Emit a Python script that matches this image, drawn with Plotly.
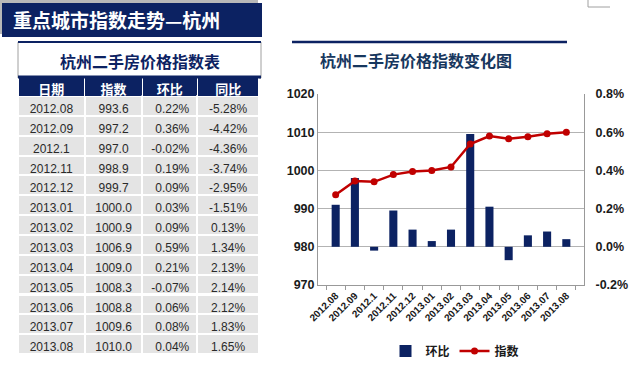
import plotly.graph_objects as go

# ---- data ----
dates = ["2012.08", "2012.09", "2012.1", "2012.11", "2012.12", "2013.01", "2013.02",
         "2013.03", "2013.04", "2013.05", "2013.06", "2013.07", "2013.08"]
index_vals = [993.6, 997.2, 997.0, 998.9, 999.7, 1000.0, 1000.9, 1006.9, 1009.0,
              1008.3, 1008.8, 1009.6, 1010.0]
mom_pct = [0.22, 0.36, -0.02, 0.19, 0.09, 0.03, 0.09, 0.59, 0.21, -0.07, 0.06, 0.08, 0.04]
yoy_pct = [-5.28, -4.42, -4.36, -3.74, -2.95, -1.51, 0.13, 1.34, 2.13, 2.14, 2.12, 1.83, 1.65]
table_headers = ["日期", "指数", "环比", "同比"]
left_ticks = [970, 980, 990, 1000, 1010, 1020]
right_ticks = [-0.2, 0.0, 0.2, 0.4, 0.6, 0.8]
right_tick_labels = ["-0.2%", "0.0%", "0.2%", "0.4%", "0.6%", "0.8%"]

W, H = 633, 369
NAVY = "#0c2262"
RED = "#c00000"
GRID = "#b3b3b3"


def px(x):
    return x / W


def py(y):
    return 1 - y / H


fig = go.Figure()

# ---- table ----
fig.add_trace(go.Table(
    domain=dict(x=[px(18), px(260)], y=[0, py(76)]),
    columnwidth=[67, 58, 55, 62],
    header=dict(
        values=table_headers,
        fill_color=NAVY,
        line=dict(color="white", width=1),
        font=dict(color="white", size=13, family="Noto Sans CJK SC", weight="bold"),
        align="center",
        height=20,
    ),
    cells=dict(
        values=[dates,
                ["%.1f" % v for v in index_vals],
                ["%.2f%%" % v for v in mom_pct],
                ["%.2f%%" % v for v in yoy_pct]],
        fill_color="#e4e4e4",
        line=dict(color="white", width=2),
        font=dict(color="#2a2a2a", size=12, family="Liberation Sans"),
        align=["center", "center", "right", "center"],
        height=19.85,
    ),
))

# ---- chart ----
fig.add_trace(go.Bar(
    x=dates, y=mom_pct, name="环比", yaxis="y", xaxis="x",
    marker=dict(color=NAVY, line=dict(width=0)), width=0.42,
))
fig.add_trace(go.Scatter(
    x=dates, y=index_vals, name="指数", yaxis="y2", xaxis="x",
    mode="lines+markers",
    line=dict(color=RED, width=2.5),
    marker=dict(color=RED, size=7),
))

tickfont = dict(family="Liberation Sans", size=12.5, color="#1a1a1a", weight="bold")

fig.update_layout(
    width=W, height=H,
    margin=dict(l=0, r=0, t=0, b=0, autoexpand=False),
    paper_bgcolor="white", plot_bgcolor="rgba(0,0,0,0)",
    showlegend=True,
    legend=dict(orientation="h", x=px(455), xanchor="center", y=py(351), yanchor="middle",
                font=dict(family="Noto Sans CJK SC", size=12, color="#1a1a1a", weight="bold"),
                itemwidth=30, traceorder="normal", bgcolor="rgba(0,0,0,0)"),
    xaxis=dict(
        type="category", domain=[px(318), px(584)], anchor="y", automargin=False,
        tickangle=-45, tickfont=dict(family="Liberation Sans", size=10, color="#1a1a1a", weight="bold"),
        showline=True, linecolor="#999999", linewidth=1,
        ticks="outside", tickson="boundaries", ticklen=4, tickcolor="#999999",
        showgrid=False, fixedrange=True,
    ),
    yaxis=dict(
        domain=[py(285), py(94)], side="right", anchor="x", automargin=False,
        range=[-0.2, 0.8], tickvals=right_ticks, ticktext=right_tick_labels,
        showgrid=True, gridcolor=GRID, gridwidth=1, zeroline=False,
        showline=True, linecolor="#999999", linewidth=1,
        tickfont=tickfont, ticks="", ticklabelstandoff=8,
    ),
    yaxis2=dict(
        overlaying="y", side="left", anchor="x", automargin=False,
        range=[970, 1020], tickvals=left_ticks,
        showgrid=False, zeroline=False,
        showline=True, linecolor="#999999", linewidth=1,
        tickfont=tickfont, ticks="",
    ),
    bargap=0.58,
)

# ---- decorative shapes ----
shapes = [
    dict(type="rect", xref="paper", yref="paper", x0=px(0), x1=px(258), y0=py(34), y1=py(0),
         fillcolor="#b8b8b8", line=dict(width=0), layer="below"),
    dict(type="rect", xref="paper", yref="paper", x0=px(2), x1=px(262), y0=py(37), y1=py(3),
         fillcolor=NAVY, line=dict(width=0), layer="below"),
    dict(type="rect", xref="paper", yref="paper", x0=px(18), x1=px(261), y0=py(78), y1=py(42),
         fillcolor="white", line=dict(color="#a0a0a0", width=1), layer="below"),
    dict(type="line", xref="paper", yref="paper", x0=px(18), x1=px(261), y0=py(42), y1=py(42),
         line=dict(color=NAVY, width=2)),
    dict(type="line", xref="paper", yref="paper", x0=px(18), x1=px(261), y0=py(77), y1=py(77),
         line=dict(color=NAVY, width=3)),
    dict(type="line", xref="paper", yref="paper", x0=px(292), x1=px(567), y0=py(42), y1=py(42),
         line=dict(color=NAVY, width=2.5)),
    dict(type="line", xref="paper", yref="paper", x0=px(588), x1=px(588), y0=py(0), y1=py(7),
         line=dict(color="#a0a0a0", width=1)),
    dict(type="line", xref="paper", yref="paper", x0=px(588), x1=px(610), y0=py(7), y1=py(7),
         line=dict(color="#a0a0a0", width=1)),
]
fig.update_layout(shapes=shapes)

annotations = [
    dict(text="<b>重点城市指数走势—杭州</b>", xref="paper", yref="paper", x=px(11), y=py(20),
         xanchor="left", yanchor="middle", showarrow=False,
         font=dict(family="Noto Sans CJK SC", size=19, color="white")),
    dict(text="<b>杭州二手房价格指数表</b>", xref="paper", yref="paper", x=px(140), y=py(61),
         xanchor="center", yanchor="middle", showarrow=False,
         font=dict(family="Noto Sans CJK SC", size=16, color=NAVY)),
    dict(text="<b>杭州二手房价格指数变化图</b>", xref="paper", yref="paper", x=px(416), y=py(60),
         xanchor="center", yanchor="middle", showarrow=False,
         font=dict(family="Noto Sans CJK SC", size=16, color="#17375e")),
]
fig.update_layout(annotations=annotations)

fig.write_html("out.html", config={"displayModeBar": False},
               post_script="document.body.style.margin='0';")
